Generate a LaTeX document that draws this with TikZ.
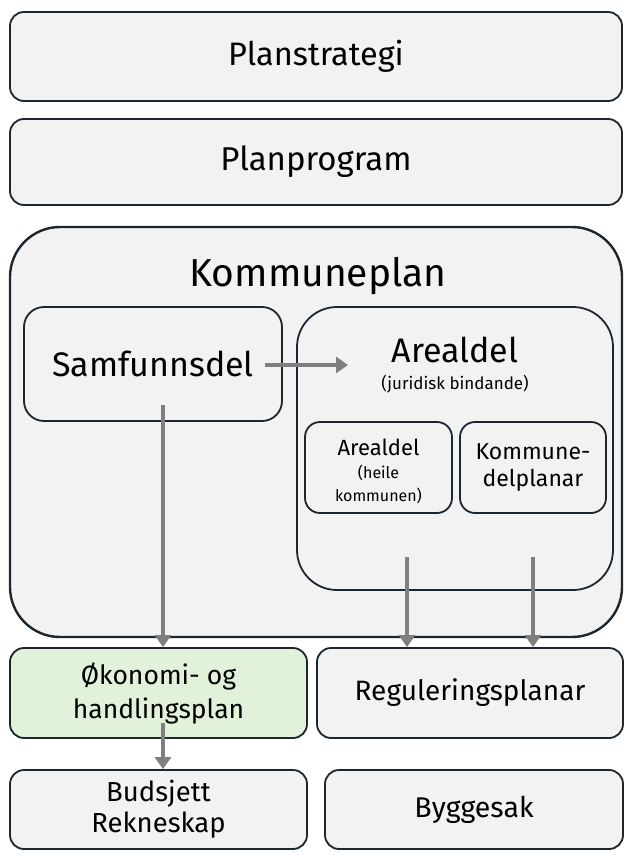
\documentclass[tikz,border=0pt]{standalone}
\usepackage{fontspec}
\setmainfont{Fira Sans}
\usetikzlibrary{arrows.meta}
\definecolor{boxfill}{HTML}{F2F2F2}
\definecolor{boxline}{HTML}{1B2631}
\definecolor{greenfill}{HTML}{E2F2DA}
\definecolor{arrowgray}{HTML}{7F7F7F}
\tikzset{
  box/.style={draw=boxline, line width=1.8pt, fill=boxfill, rounded corners=#1, inner sep=0pt},
  box/.default=14pt,
  flow/.style={draw=arrowgray, line width=4.5pt, -{Triangle[width=16pt,length=12pt]}},
  txt/.style={inner sep=0pt, align=center, text=black}
}
\begin{document}
\begin{tikzpicture}[x=1pt,y=-1pt]
\useasboundingbox (0,0) rectangle (624,856);
\fill[white] (0,0) rectangle (624,856);
% top boxes
\node[box, minimum width=612pt, minimum height=89pt, font=\fontsize{32.5}{36}\selectfont] (strat) at (316,56.5) {Planstrategi};
\node[box, minimum width=612pt, minimum height=86pt, font=\fontsize{33}{36}\selectfont] (prog) at (316,162) {Planprogram};
% Kommuneplan
\node[box=50pt, line width=2.4pt, minimum width=612pt, minimum height=410pt] (kp) at (316,432) {};
\node[txt, font=\fontsize{39}{42}\selectfont] (kptitle) at (318,276) {Kommuneplan};
% Samfunnsdel
\node[box=20pt, minimum width=258pt, minimum height=114pt] (samf) at (153,364) {};
\node[txt, font=\fontsize{34}{38}\selectfont] (samft) at (153,364) {Samfunnsdel};
% Arealdel
\node[box=40pt, minimum width=316pt, minimum height=283pt] (areal) at (455,448.5) {};
\node[txt, font=\fontsize{34}{38}\selectfont] (arealt) at (455,350) {Arealdel};
\node[txt, font=\fontsize{17}{20}\selectfont] (jur) at (455,384) {(juridisk bindande)};
% inner boxes
\node[box=15pt, minimum width=147pt, minimum height=91pt] (ahk) at (378.5,467.5) {};
\node[txt, font=\fontsize{22}{24}\selectfont] (ahkt) at (378.5,447) {Arealdel};
\node[txt, font=\fontsize{16}{23}\selectfont] (ahks) at (378.5,484) {(heile\\kommunen)};
\node[box=15pt, minimum width=146pt, minimum height=91pt, font=\fontsize{23}{27}\selectfont, align=center] (kdp) at (533,467.5) {Kommune-\\delplanar};
% lower boxes
\node[box, minimum width=297pt, minimum height=90pt, fill=greenfill, font=\fontsize{26.5}{34}\selectfont, align=center] (okon) at (158.5,693) {Økonomi- og\\handlingsplan};
\node[box, minimum width=306pt, minimum height=90pt, font=\fontsize{28}{30}\selectfont] (reg) at (470,693) {Reguleringsplanar};
\node[box, minimum width=297pt, minimum height=79pt, font=\fontsize{27.5}{31}\selectfont, align=center] (bud) at (158.5,809.5) {Budsjett\\Rekneskap};
\node[box, minimum width=298pt, minimum height=79pt, font=\fontsize{28.5}{30}\selectfont] (bygg) at (474,809.5) {Byggesak};
% connectors
\coordinate (s1) at (163,405);
\coordinate (a1) at (407,557);
\coordinate (a2) at (533,557);
\coordinate (o1) at (163,723);
\coordinate (h1) at (265,365);
\coordinate (h2) at (348,365);
\draw[flow] (h1) -- (h2);
\draw[flow] (s1) -- (okon.north -| s1);
\draw[flow] (a1) -- (reg.north -| a1);
\draw[flow] (a2) -- (reg.north -| a2);
\draw[flow] (o1) -- (bud.north -| o1);
\end{tikzpicture}
\end{document}
